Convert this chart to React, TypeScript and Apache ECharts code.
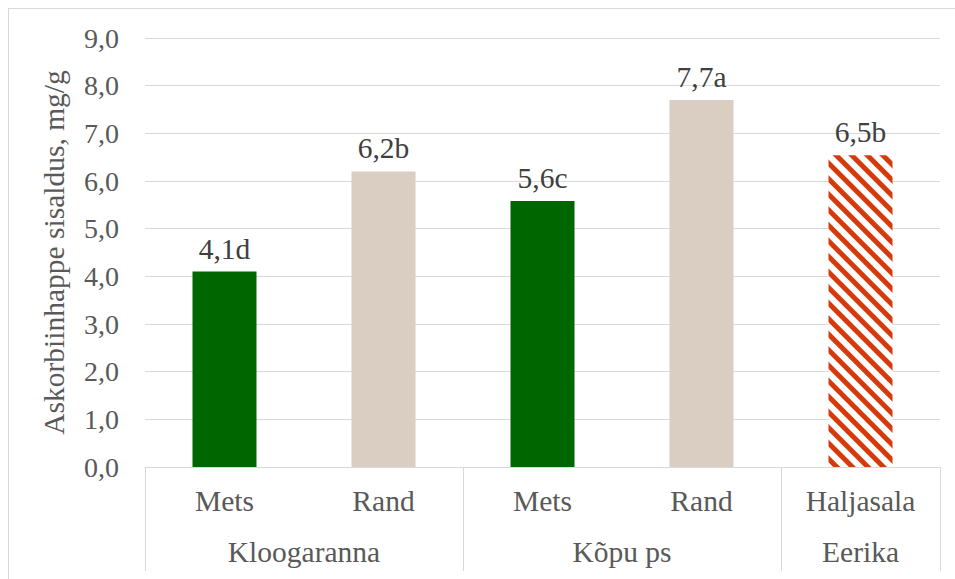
import React, { useEffect, useRef } from "react";
import * as echarts from "echarts";

const subCategories = ["Mets", "Rand", "Mets", "Rand", "Haljasala"];
const groupNames = ["Kloogaranna", "Kõpu ps", "Eerika"];
const groupSpans = [2, 2, 1];
const values = [4.1, 6.2, 5.58, 7.7, 6.54];
const valueLabels = ["4,1d", "6,2b", "5,6c", "7,7a", "6,5b"];
const barKinds = ["mets", "rand", "mets", "rand", "hatch"];
const yAxisName = "Askorbiinhappe sisaldus, mg/g";

const FONT = "'Liberation Serif', 'Times New Roman', 'DejaVu Serif', serif";
const FS = 29.5;
const FS_TICK = 28;
const GRID_LEFT = 136;
const GRID_RIGHT = 15;
const GRID_TOP = 29;
const GRID_BOTTOM = 112;

export default function App() {
  const ref = useRef<HTMLDivElement>(null);
  useEffect(() => {
    if (!ref.current) return;
    const chart = echarts.init(ref.current, null, { renderer: "svg" });
    const width = ref.current.clientWidth;
    const band = (width - GRID_LEFT - GRID_RIGHT) / subCategories.length;

    const groupLabelAt: Record<number, { name: string; span: number }> = {};
    let idx = 0;
    groupNames.forEach((g, i) => {
      groupLabelAt[idx] = { name: g, span: groupSpans[i] };
      idx += groupSpans[i];
    });
    const tickIdx = new Set<number>(Object.keys(groupLabelAt).map(Number));

    const rich: Record<string, any> = {};
    groupSpans.forEach((s) => {
      rich["s" + s] = {
        fontFamily: FONT,
        fontSize: FS,
        color: "#595959",
        padding: [0, 0, 0, (s - 1) * band],
      };
    });

    const colorFor = (k: string) => {
      if (k === "mets") return { color: "#006600" };
      if (k === "rand") return { color: "#d9cec1" };
      return {
        color: "#ffffff",
        decal: {
          symbol: "rect",
          symbolSize: 1,
          color: "#d63a0a",
          dashArrayX: [1, 0],
          dashArrayY: [5, 6],
          rotation: Math.PI / 4,
        },
      };
    };

    chart.setOption({
      animation: false,
      textStyle: { fontFamily: FONT },
      grid: {
        left: GRID_LEFT,
        right: GRID_RIGHT,
        top: GRID_TOP,
        bottom: GRID_BOTTOM,
      },
      xAxis: [
        {
          type: "category",
          data: subCategories,
          axisLine: { lineStyle: { color: "#d9d9d9", width: 1 } },
          axisTick: {
            show: true,
            interval: (i: number) => tickIdx.has(i),
            length: 104,
            lineStyle: { color: "#d9d9d9", width: 1 },
          },
          axisLabel: {
            interval: 0,
            margin: 19,
            fontFamily: FONT,
            fontSize: FS,
            color: "#595959",
          },
        },
        {
          type: "category",
          data: subCategories,
          position: "bottom",
          axisLine: { show: false },
          axisTick: { show: false },
          axisLabel: {
            interval: 0,
            margin: 70,
            fontFamily: FONT,
            fontSize: FS,
            color: "#595959",
            formatter: (_v: string, i: number) => {
              const g = groupLabelAt[i];
              if (!g) return "";
              return "{s" + g.span + "|" + g.name + "}";
            },
            rich,
          },
        },
      ],
      yAxis: {
        type: "value",
        min: 0,
        max: 9,
        interval: 1,
        name: yAxisName,
        nameLocation: "middle",
        nameGap: 76,
        nameTextStyle: { fontFamily: FONT, fontSize: FS, color: "#595959" },
        axisLine: { show: false },
        axisTick: { show: false },
        splitLine: { lineStyle: { color: "#d9d9d9", width: 1 } },
        axisLabel: {
          margin: 26,
          fontFamily: FONT,
          fontSize: FS_TICK,
          color: "#595959",
          formatter: (v: number) => v.toFixed(1).replace(".", ","),
        },
      },
      series: [
        {
          type: "bar",
          xAxisIndex: 0,
          barWidth: 64,
          data: values.map((v, i) => ({
            value: v,
            itemStyle: colorFor(barKinds[i]),
          })),
          label: {
            show: true,
            position: "top",
            distance: 8,
            fontFamily: FONT,
            fontSize: FS,
            color: "#404040",
            formatter: (p: any) => valueLabels[p.dataIndex],
          },
        },
      ],
    });
    return () => chart.dispose();
  }, []);

  return (
    <div
      style={{
        position: "fixed",
        left: 8,
        top: 8,
        right: 0,
        bottom: 0,
        borderTop: "1px solid #d9d9d9",
        borderLeft: "1px solid #d9d9d9",
        background: "#fff",
      }}
    >
      <div ref={ref} style={{ width: "100%", height: "100%" }} />
    </div>
  );
}
